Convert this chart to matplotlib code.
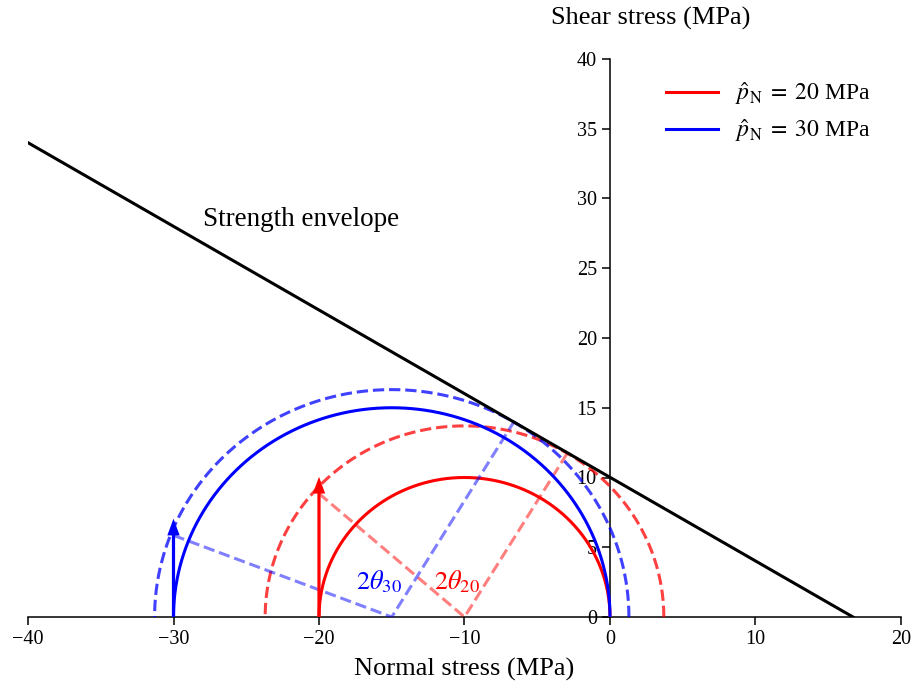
import numpy as np
import matplotlib
matplotlib.use("Agg")
import matplotlib.pyplot as plt

plt.rcParams['font.family'] = ['Liberation Serif', 'DejaVu Serif']
plt.rcParams['mathtext.fontset'] = 'stix'

# pore pressure cases
p_hat = [20, 30]
colours = ['#ff0000', '#0000ff']
# Mohr circles (centre, radius)
mohr_centre = [-10, -15]
mohr_radius = [10, 15]
fail_radius = [13.7, 16.3]
# tangent points of the failure circles with the envelope
tangent_sigma = [-2.9, -6.6]
tangent_tau = [11.8, 14.0]
# arrows at sigma = -p_hat
arrow_sigma = [-20, -30]
arrow_tau = [8.85, 5.85]
# strength envelope
env_sigma = [-40, 16.7]
env_tau = [34, 0]
# 2theta labels
theta_sigma = [-10.5, -15.9]
theta_tau = [2.0, 2.0]
theta_text = [r'$2\theta_{20}$', r'$2\theta_{30}$']

xticks = [-40, -30, -20, -10, 0, 10, 20]
yticks = [0, 5, 10, 15, 20, 25, 30, 35, 40]


fig = plt.figure(figsize=(9.16, 6.88), dpi=100)
ax = fig.add_axes([28/916, 71/688, 873/916, 558/688])

ang = np.linspace(0, np.pi, 400)

for i in range(2):
    c = colours[i]
    xc = mohr_centre[i]
    # circle with p_hat
    ax.plot(xc + mohr_radius[i]*np.cos(ang), mohr_radius[i]*np.sin(ang), color=c, lw=2.2, zorder=3,
            label=r'$\hat{p}_\mathrm{N}\;=\;%d$ MPa' % p_hat[i])
    # circle at failure
    ax.plot(xc + fail_radius[i]*np.cos(ang), fail_radius[i]*np.sin(ang), color=c, lw=2.2, ls='--',
            alpha=0.75, zorder=3)
    # construction lines
    ax.plot([arrow_sigma[i], xc, tangent_sigma[i]], [arrow_tau[i], 0, tangent_tau[i]], color=c, lw=2.2,
            ls='--', alpha=0.5, zorder=3)
    ax.arrow(arrow_sigma[i], 0, 0, arrow_tau[i], width=0.22, head_width=0.85, head_length=1.2,
             length_includes_head=False, color=c, lw=0, zorder=4)
    ax.text(theta_sigma[i], theta_tau[i], theta_text[i], color=c, fontsize=19, ha='center', va='baseline')

ax.plot(env_sigma, env_tau, color='black', lw=2.2, zorder=3)
ax.text(-28, 28, 'Strength envelope', fontsize=19.5, ha='left', va='baseline')

ax.set_xlim(-40, 20)
ax.set_ylim(0, 40)
ax.set_xticks(xticks)
ax.set_yticks(yticks)

ax.spines['left'].set_position(('data', 0))
ax.spines['bottom'].set_position(('data', 0))
ax.spines['top'].set_visible(False)
ax.spines['right'].set_visible(False)
for s in ['left', 'bottom']:
    ax.spines[s].set_linewidth(1.1)
ax.tick_params(labelsize=14.5, length=5.5, width=1.1, pad=4)
ax.set_axisbelow(True)

ax.set_xlabel('Normal stress (MPa)', fontsize=19, va='baseline')
ax.xaxis.set_label_coords(0.5, -0.1057)
ax.set_ylabel('Shear stress (MPa)', fontsize=19, rotation=0, ha='center', va='baseline')
ax.yaxis.set_label_coords(0.7136, 1.061)

ax.legend(loc='upper left', bbox_to_anchor=(0.731, 0.962), frameon=False, fontsize=17,
          handlelength=2.2, handletextpad=0.7, labelspacing=0.42, borderpad=0, borderaxespad=0)

fig.savefig('out.png', dpi=100)
